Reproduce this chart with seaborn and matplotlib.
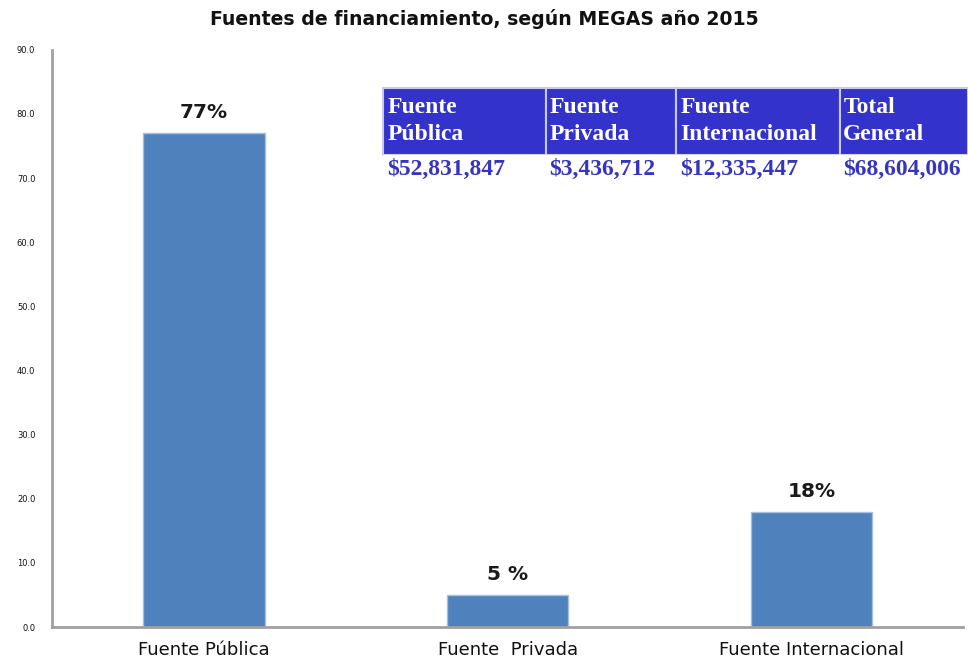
import pandas as pd
import matplotlib.pyplot as plt
import seaborn as sns

# datos
categorias = ['Fuente Pública', 'Fuente  Privada', 'Fuente Internacional']
porcentajes = [77, 5, 18]
etiquetas = ['77%', '5 %', '18%']
tabla_encabezado = ['Fuente\nPública', 'Fuente\nPrivada', 'Fuente\nInternacional', 'Total\nGeneral']
tabla_valores = ['$52,831,847', '$3,436,712', '$12,335,447', '$68,604,006']

df = pd.DataFrame({'categoria': categorias, 'pct': porcentajes})

sns.set_style('white')
plt.rcParams['font.family'] = ['DejaVu Sans']

fig = plt.figure(figsize=(9.68, 6.65), dpi=100)
ax = fig.add_axes([0.0537, 0.0571, 0.9413, 0.868])

sns.barplot(data=df, x='categoria', y='pct', color='#4F81BD', width=0.4,
            edgecolor='#A7C0E0', linewidth=1, saturation=1, ax=ax)

for i, p in enumerate(ax.patches):
    ax.text(p.get_x() + p.get_width() / 2, p.get_height() + 1.7, etiquetas[i],
            ha='center', va='bottom', fontsize=14.5, fontweight='bold', color='#1a1a1a')

ax.set_xlim(-0.5, 2.5)
ax.set_ylim(0, 90)
ax.set_yticks(range(0, 91, 10))
ax.set_yticklabels([f'{v:.1f}' for v in range(0, 91, 10)], fontsize=6)
ax.tick_params(axis='x', labelsize=13, pad=10, length=0, labelcolor='#111111')
ax.tick_params(axis='y', pad=12, length=0, labelcolor='#111111')
ax.set_xlabel('')
ax.set_ylabel('')
for s in ['top', 'right']:
    ax.spines[s].set_visible(False)
for s in ['left', 'bottom']:
    ax.spines[s].set_color('#A0A0A0')
    ax.spines[s].set_linewidth(2)

fig.text(0.5, 0.972, 'Fuentes de financiamiento, según MEGAS año 2015',
         ha='center', va='center', fontsize=13.6, fontweight='bold', color='#111111')

# tabla de montos
tax = fig.add_axes([0.3957, 0.722, 0.6043, 0.146])
tax.axis('off')
anchos = [163, 130, 164, 128]
tot = sum(anchos)
tabla = tax.table(cellText=[tabla_valores], colLabels=tabla_encabezado,
                  colWidths=[a / tot for a in anchos], cellLoc='left',
                  colLoc='left', bbox=[0, 0, 1, 1])
tabla.auto_set_font_size(False)
for (r, c), cell in tabla.get_celld().items():
    txt = cell.get_text()
    txt.set_fontfamily('Liberation Serif')
    txt.set_fontweight('bold')
    txt.set_fontsize(17)
    cell.PAD = 0.025
    if r == 0:
        cell.set_height(0.69)
        cell.set_facecolor('#3333CC')
        cell.set_edgecolor('#C8C8F0')
        cell.set_linewidth(1.5)
        txt.set_color('white')
        txt.set_linespacing(1.35)
    else:
        cell.set_height(0.31)
        cell.set_facecolor('white')
        cell.set_edgecolor('white')
        txt.set_color('#3535C0')

fig.savefig('out.png', dpi=100)
